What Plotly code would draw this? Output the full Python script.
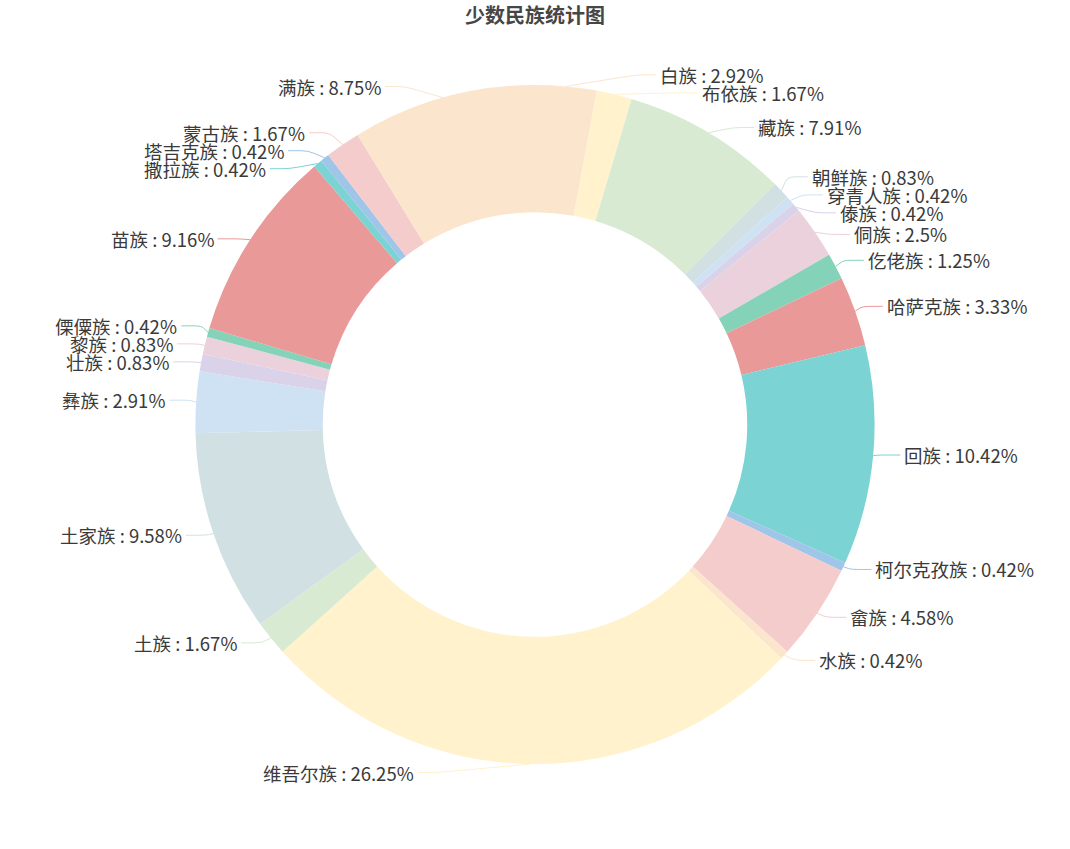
import math
import plotly.graph_objects as go

# ---------------- data ----------------
title_text = "少数民族统计图"
names = ["白族", "布依族", "藏族", "朝鲜族", "穿青人族", "傣族", "侗族", "仡佬族",
         "哈萨克族", "回族", "柯尔克孜族", "畲族", "水族", "维吾尔族", "土族", "土家族",
         "彝族", "壮族", "黎族", "傈僳族", "苗族", "撒拉族", "塔吉克族", "蒙古族", "满族"]
percents = [2.92, 1.67, 7.91, 0.83, 0.42, 0.42, 2.5, 1.25,
            3.33, 10.42, 0.42, 4.58, 0.42, 26.25, 1.67, 9.58,
            2.91, 0.83, 0.83, 0.42, 9.16, 0.42, 0.42, 1.67, 8.75]
palette = ["#fce5cd", "#fff2cc", "#d9ead3", "#d0e0e3", "#cfe2f3", "#d9d2e9",
           "#ead1dc", "#84d3b9", "#ea9999", "#7bd3d3", "#9fc5e8", "#f4cccc"]

# ---------------- layout constants ----------------
W, H = 1070, 849
cx, cy = W / 2, H / 2
R = min(W, H) / 2 * 0.8
R0 = min(W, H) / 2 * 0.5
LEN1, LEN2 = 10, 20
LABEL_H = 18
TEXT_GAP = 3
TEXT_DY = -1.5
FONT = "Noto Sans CJK SC, sans-serif"
TEXT_COLOR = "#3a3a3a"

colors = [palette[i % len(palette)] for i in range(len(names))]

# ---------------- label layout (pie outer labels with overlap avoidance) ----------------
total = sum(percents)
items = []
acc = 0.0
for i, (n, p) in enumerate(zip(names, percents)):
    a0 = acc / total * 2 * math.pi
    acc += p
    a1 = acc / total * 2 * math.pi
    mid = (a0 + a1) / 2
    nx, ny = math.sin(mid), -math.cos(mid)
    x1, y1 = cx + R * nx, cy + R * ny
    x2, y2 = x1 + nx * LEN1, y1 + ny * LEN1
    d = -1 if nx < 0 else 1
    x3 = x2 + d * LEN2
    items.append(dict(i=i, x=x3 + d * 5, y=y2, x1=x1, y1=y1))


def change_x(lst, is_down, d):
    last_dx = float("inf") if is_down else 0.0
    for o in lst:
        dy = abs(o["y"] - cy)
        if dy < R + LEN1:
            dx = math.sqrt((R + LEN1 + LEN2) ** 2 - dy ** 2)
        else:
            dx = abs(o["x"] - cx)
        if is_down and dx >= last_dx:
            dx = last_dx - 10
        if (not is_down) and dx <= last_dx:
            dx = last_dx + 10
        o["x"] = cx + dx * d
        last_dx = dx


def adjust_side(lst, d):
    lst.sort(key=lambda o: o["y"])
    n = len(lst)

    def shift_up(end, delta):
        for j in range(end, -1, -1):
            if lst[j]["y"] - delta < 0:
                break
            lst[j]["y"] -= delta
            if j > 0 and lst[j]["y"] > lst[j - 1]["y"] + LABEL_H:
                break

    def shift_down(start, end, delta):
        for j in range(start, end):
            if lst[j]["y"] + delta > H:
                break
            lst[j]["y"] += delta
            if j > start and j + 1 < end and lst[j + 1]["y"] > lst[j]["y"] + LABEL_H:
                shift_up(j, delta / 2)
                return
        shift_up(end - 1, delta / 2)

    last = 0.0
    for i in range(n):
        delta = lst[i]["y"] - last
        if delta < 0:
            shift_down(i, n, -delta)
        last = lst[i]["y"] + LABEL_H
    if H - last < 0:
        shift_up(n - 1, last - H)
    up = [o for o in lst if o["y"] < cy]
    down = [o for o in lst if o["y"] >= cy]
    change_x(up, False, d)
    change_x(down, True, d)


left = [o for o in items if o["x"] < cx]
right = [o for o in items if o["x"] >= cx]
adjust_side(right, 1)
adjust_side(left, -1)


def px(x):
    return x / W


def py(y):
    return 1 - y / H


shapes = []
annotations = []
for o in items:
    i = o["i"]
    d = -1 if o["x"] < cx else 1
    p3x = o["x"] - TEXT_GAP * d
    p2x = p3x - LEN2 * d
    yy = o["y"] + TEXT_DY
    p1 = (o["x1"], o["y1"])
    p2 = (p2x, yy)
    p3 = (p3x, yy)
    s = 0.35
    a = (p2[0] + (p1[0] - p2[0]) * s, p2[1] + (p1[1] - p2[1]) * s)
    b = (p2[0] + (p3[0] - p2[0]) * s, p2[1])
    path = (f"M {px(p1[0]):.6f},{py(p1[1]):.6f} L {px(a[0]):.6f},{py(a[1]):.6f} "
            f"Q {px(p2[0]):.6f},{py(p2[1]):.6f} {px(b[0]):.6f},{py(b[1]):.6f} "
            f"L {px(p3[0]):.6f},{py(p3[1]):.6f}")
    shapes.append(dict(type="path", xref="paper", yref="paper", path=path,
                       line=dict(color=colors[i], width=1), layer="above"))
    annotations.append(dict(
        x=px(o["x"]), y=py(yy), xref="paper", yref="paper",
        text=f"{names[i]} : {percents[i]:g}%", showarrow=False,
        xanchor="left" if d > 0 else "right", yanchor="middle",
        font=dict(family=FONT, size=18.5, color=TEXT_COLOR), borderpad=0))

fig = go.Figure(go.Pie(
    labels=names, values=percents, sort=False, direction="clockwise", rotation=0,
    hole=R0 / R, textinfo="none", hoverinfo="label+percent",
    marker=dict(colors=colors, line=dict(width=0)),
    domain=dict(x=[(cx - R) / W, (cx + R) / W], y=[(H - cy - R) / H, (H - cy + R) / H]),
))

fig.update_layout(
    width=W, height=H,
    margin=dict(l=0, r=0, t=0, b=0),
    paper_bgcolor="white", plot_bgcolor="white",
    showlegend=False,
    title=dict(text=title_text, x=0.5, xanchor="center", y=1 - 15.5 / H, yanchor="middle",
               font=dict(family="Noto Sans CJK SC, sans-serif", size=20, color="#464646",
                         weight="bold")),
    shapes=shapes,
    annotations=annotations,
)

fig.write_html("out.html")
